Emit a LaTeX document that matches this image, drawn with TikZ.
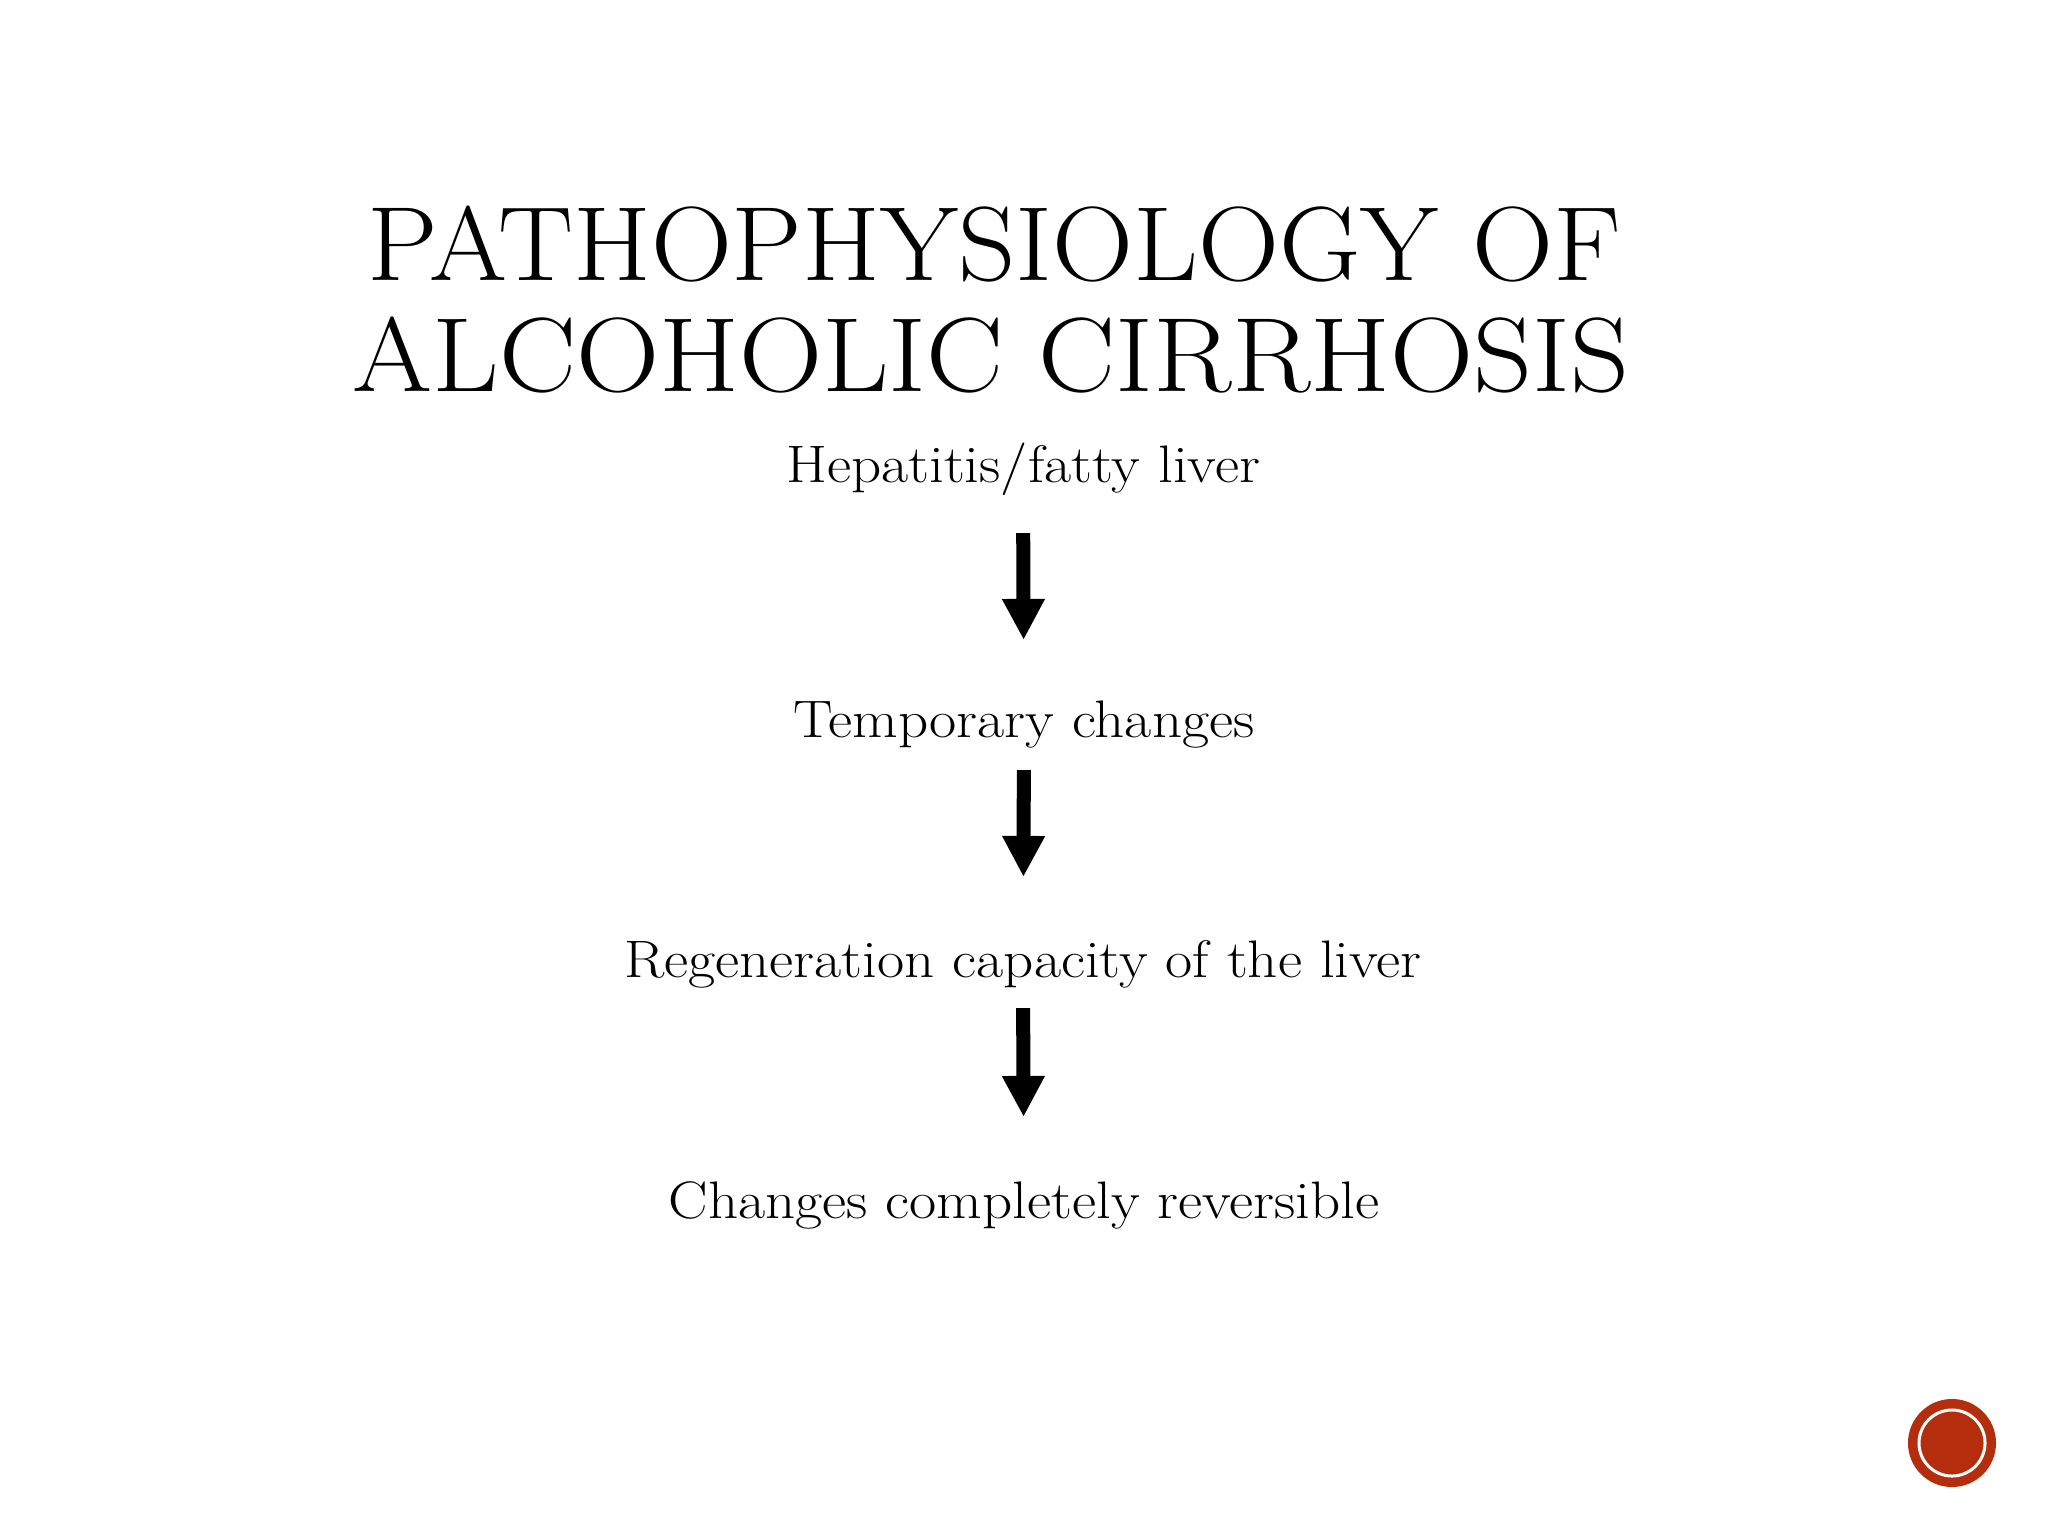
\documentclass[tikz,border=0pt]{standalone}
\usepackage{graphicx}
\usepackage{tikz}
\usetikzlibrary{arrows.meta}

\definecolor{badgered}{RGB}{180,45,12}
\newcommand{\titletext}[2]{\scalebox{#1}[1]{#2}}
\newcommand{\steptext}[1]{\scalebox{1.12}[1]{#1}}

\begin{document}
\begin{tikzpicture}[x=0.01cm,y=-0.01cm]
\useasboundingbox (0,0) rectangle (2048,1536);

\begin{scope}[every node/.style={anchor=base,inner sep=0pt,font=\fontsize{30}{32}\selectfont}]
    \node (title1) at (994, 280) {\titletext{1.065}{PATHOPHYSIOLOGY OF}};
    \node (title2) at (991, 391) {\titletext{1.094}{ALCOHOLIC CIRRHOSIS}};
\end{scope}

\begin{scope}[every node/.style={anchor=base,inner sep=0pt,font=\fontsize{15}{18}\selectfont}]
    \node (hep) at (1023, 482) {\steptext{Hepatitis/fatty liver}};
    \node (temp) at (1024, 737) {\steptext{Temporary changes}};
    \node (regen) at (1023, 977) {\steptext{Regeneration capacity of the liver}};
    \node (rev) at (1024, 1218) {\steptext{Changes completely reversible}};
\end{scope}

\begin{scope}[style={line width=0.14cm,-{Triangle[length=0.41cm,width=0.40cm]}}]
	\path (hep.base) edge[shorten <=0.51cm, shorten >=0.97cm] (temp.base);
	\path (temp.base) edge[shorten <=0.33cm, shorten >=1.00cm] (regen.base);
	\path (regen.base) edge[shorten <=0.31cm, shorten >=1.01cm] (rev.base);
\end{scope}

\node[circle,fill=badgered,minimum size=0.88cm,inner sep=0pt] (badge) at (1952, 1443) {};
\draw[white,line width=0.03cm] (badge.center) circle (0.33cm);

\end{tikzpicture}
\end{document}
